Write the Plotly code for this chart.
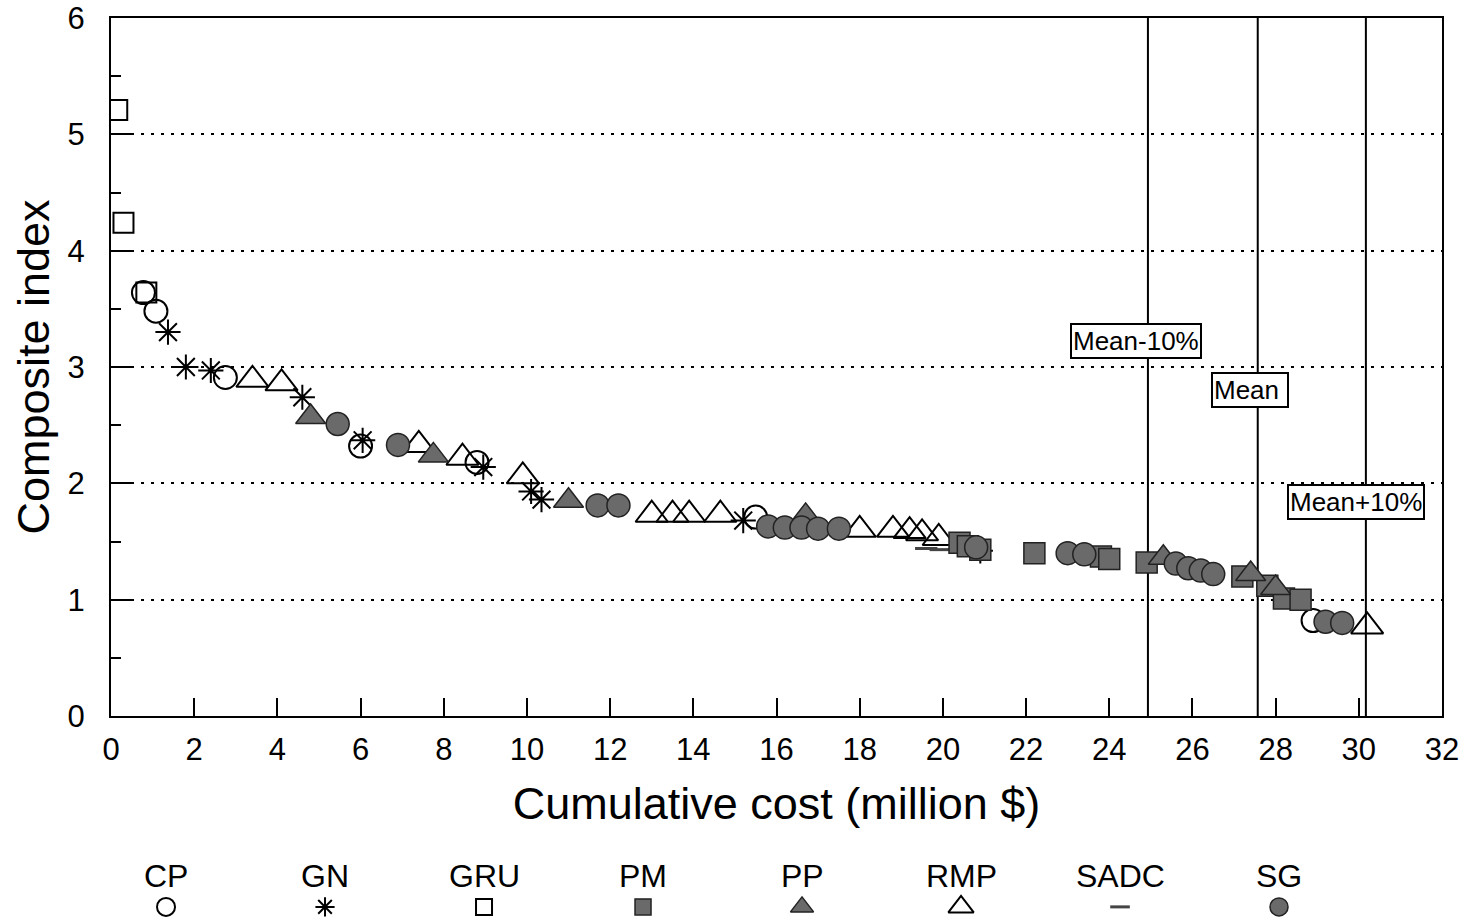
import plotly.graph_objects as go

# Cumulative cost (million $) and composite index for each project type
cp_x = [0.78, 1.08, 2.75, 6.0, 8.8, 15.5, 28.9]
cp_y = [3.64, 3.48, 2.91, 2.32, 2.18, 1.71, 0.82]

gn_x = [1.37, 1.8, 2.4, 4.6, 6.05, 8.95, 10.1, 10.35, 15.2, 20.9]
gn_y = [3.30, 3.00, 2.97, 2.74, 2.37, 2.14, 1.93, 1.86, 1.68, 1.42]

gru_x = [0.15, 0.3, 0.85]
gru_y = [5.21, 4.24, 3.64]

pm_x = [20.4, 20.6, 20.9, 22.2, 23.8, 24.0, 24.9, 27.2, 27.8, 28.2, 28.6]
pm_y = [1.49, 1.46, 1.43, 1.40, 1.37, 1.35, 1.32, 1.20, 1.12, 1.01, 1.00]

pp_x = [4.8, 7.75, 11.0, 16.7, 25.3, 27.4, 28.0]
pp_y = [2.57, 2.24, 1.85, 1.72, 1.36, 1.22, 1.10]

rmp_x = [3.4, 4.1, 7.4, 8.45, 9.9, 13.0, 13.5, 13.9, 14.65, 18.0, 18.8, 19.2, 19.5, 19.9, 30.2]
rmp_y = [2.89, 2.86, 2.33, 2.22, 2.06, 1.73, 1.73, 1.73, 1.73, 1.60, 1.60, 1.59, 1.57, 1.53, 0.77]

sadc_x = [19.6, 19.95]
sadc_y = [1.44, 1.43]

sg_x = [5.45, 6.9, 11.7, 12.2, 15.8, 16.2, 16.6, 17.0, 17.5, 20.8, 23.0, 23.4,
        25.6, 25.9, 26.2, 26.5, 29.2, 29.6]
sg_y = [2.51, 2.33, 1.81, 1.81, 1.63, 1.62, 1.62, 1.61, 1.61, 1.45, 1.40, 1.39,
        1.31, 1.27, 1.25, 1.22, 0.81, 0.80]

# Reference lines around the mean cumulative cost
ref_x = [24.93, 27.57, 30.17]
ref_labels = ["Mean-10%", "Mean\u00a0", "Mean+10%"]
ref_label_x = [24.64, 27.39, 29.93]
ref_label_y = [3.22, 2.80, 1.84]

legend_names = ["CP", "GN", "GRU", "PM", "PP", "RMP", "SADC", "SG"]

FONT = "Liberation Sans, Arial, Helvetica, sans-serif"
GRAY = "#6a6a6a"

styles = {
    "CP": dict(symbol="circle-open", size=23, color="black", line=dict(width=2, color="black")),
    "GN": dict(symbol="asterisk-open", size=21, color="black", line=dict(width=2, color="black")),
    "GRU": dict(symbol="square-open", size=20, color="black", line=dict(width=2, color="black")),
    "PM": dict(symbol="square", size=21, color=GRAY, line=dict(width=1.5, color="#222")),
    "PP": dict(symbol="triangle-up", size=26, color=GRAY, line=dict(width=1.5, color="#222")),
    "RMP": dict(symbol="triangle-up-open", size=28, color="black", line=dict(width=2, color="black")),
    "SADC": dict(symbol="line-ew-open", size=16, color="#444", line=dict(width=3, color="#444")),
    "SG": dict(symbol="circle", size=23, color=GRAY, line=dict(width=1.5, color="#222")),
}

series = {
    "CP": (cp_x, cp_y), "GN": (gn_x, gn_y), "GRU": (gru_x, gru_y),
    "PM": (pm_x, pm_y), "PP": (pp_x, pp_y), "RMP": (rmp_x, rmp_y),
    "SADC": (sadc_x, sadc_y), "SG": (sg_x, sg_y),
}

fig = go.Figure()

for name in ["GRU", "CP", "GN", "RMP", "SADC", "PM", "PP", "SG"]:
    xs, ys = series[name]
    fig.add_trace(go.Scatter(x=xs, y=ys, mode="markers", name=name,
                             marker=styles[name], showlegend=False,
                             xaxis="x", yaxis="y"))

# Legend row: label above a sample symbol
legend_styles = {k: dict(v) for k, v in styles.items()}
for k in legend_styles:
    legend_styles[k]["size"] = max(14, int(legend_styles[k]["size"] * 0.8))
legend_styles["SADC"]["size"] = 14
for i, name in enumerate(legend_names):
    fig.add_trace(go.Scatter(x=[i], y=[0.21], mode="markers", marker=legend_styles[name],
                             showlegend=False, xaxis="x2", yaxis="y2", hoverinfo="skip"))
    fig.add_annotation(x=i, y=0.64, xref="x2", yref="y2", text=name, showarrow=False,
                       font=dict(family=FONT, size=32, color="black"))

for xv in ref_x:
    fig.add_shape(type="line", x0=xv, x1=xv, y0=0, y1=6, xref="x", yref="y",
                  line=dict(color="black", width=2), layer="below")

for lx, ly, txt in zip(ref_label_x, ref_label_y, ref_labels):
    fig.add_annotation(x=lx, y=ly, xref="x", yref="y", text=txt, showarrow=False,
                       font=dict(family=FONT, size=26, color="black"),
                       bgcolor="white", bordercolor="black", borderwidth=2, borderpad=1)

fig.update_layout(
    width=1473, height=922,
    margin=dict(l=111, r=31, t=18, b=0, autoexpand=False),
    paper_bgcolor="white", plot_bgcolor="white",
    font=dict(family=FONT, color="black"),
    xaxis=dict(
        range=[0, 32], tickmode="linear", tick0=0, dtick=2,
        ticks="inside", ticklen=18, tickwidth=2, tickcolor="black",
        showline=True, linecolor="black", linewidth=2, mirror=True,
        showgrid=False, zeroline=False,
        tickfont=dict(family=FONT, size=31), ticklabelstandoff=5,
        title=dict(text="Cumulative cost (million $)", font=dict(family=FONT, size=45), standoff=21),
        anchor="y", domain=[0, 1],
    ),
    yaxis=dict(
        range=[0, 6], tickmode="linear", tick0=0, dtick=1,
        ticks="inside", ticklen=20, tickwidth=2, tickcolor="black",
        minor=dict(dtick=0.5, ticks="inside", ticklen=10, tickwidth=2, tickcolor="black", showgrid=False),
        showline=True, linecolor="black", linewidth=2, mirror=True,
        showgrid=True, gridcolor="black", gridwidth=2, griddash="3px,7px",
        zeroline=False,
        tickfont=dict(family=FONT, size=31), ticklabelstandoff=18,
        title=dict(text="Composite index", font=dict(family=FONT, size=45), standoff=4),
        anchor="x", domain=[(922 - 716) / 904, 1],
    ),
    xaxis2=dict(range=[-0.346, 8.025], visible=False, anchor="y2", domain=[0, 1],
                fixedrange=True),
    yaxis2=dict(range=[0, 1], visible=False, anchor="x2", domain=[0, 72 / 904],
                fixedrange=True),
    showlegend=False,
)

fig.write_html("out.html")
